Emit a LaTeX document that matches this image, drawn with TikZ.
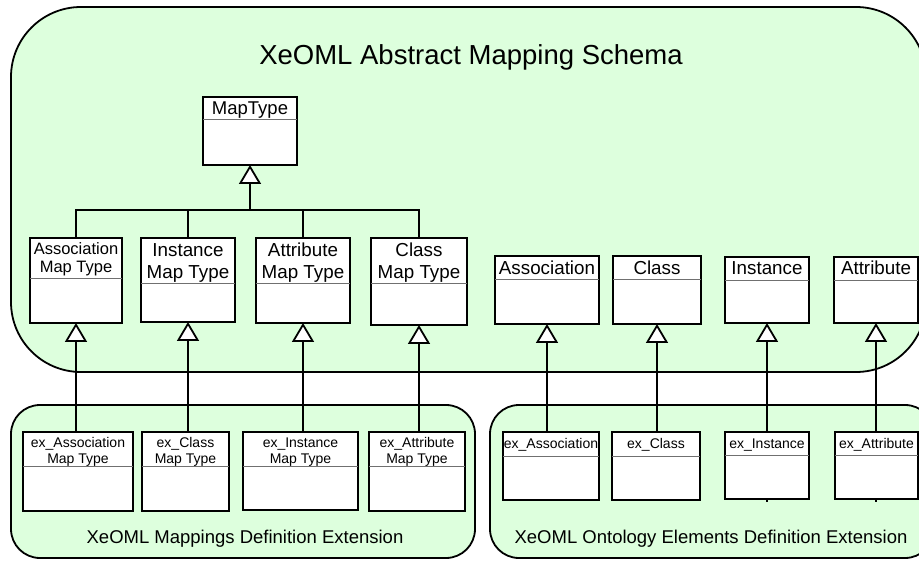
\documentclass[tikz,border=0pt]{standalone}
\usepackage{fontspec}
\setmainfont{Liberation Sans}
\usetikzlibrary{arrows.meta}
\definecolor{pkgfill}{HTML}{DDFFDD}
\definecolor{sepgray}{HTML}{707070}

\tikzset{
  classbox/.style={draw=black, line width=2pt, fill=white, inner sep=0pt, outer sep=0pt},
  headsep/.style={draw=sepgray, line width=1pt},
  pkg/.style={draw=black, line width=1.8pt, fill=pkgfill},
  link/.style={draw=black, line width=2pt},
  gen/.style={link, -{Triangle[length=19pt, width=22pt, fill=white, line width=1.8pt]}},
  fTop/.style={font=\fontsize{18.5}{21}\selectfont, align=center, inner sep=0pt},
  fMid/.style={font=\fontsize{18.8}{22}\selectfont, align=center, inner sep=0pt},
  fSmall/.style={font=\fontsize{16.5}{18}\selectfont, align=center, inner sep=0pt},
  fEx/.style={font=\fontsize{14}{16}\selectfont, align=center, inner sep=0pt},
  pkglabel/.style={font=\fontsize{18.5}{21}\selectfont, inner sep=0pt, anchor=base},
}

% UML class: name, x1, y1, x2, y2, header line y, text style, last baseline, label
\newcommand{\umlclass}[9]{%
  \pgfmathsetmacro{\cw}{#4-#2}%
  \pgfmathsetmacro{\ch}{#5-#3}%
  \pgfmathsetmacro{\cx}{(#2+#4)/2}%
  \pgfmathsetmacro{\sy}{#6+0.5}%
  \node[classbox, minimum width=\cw pt, minimum height=\ch pt, anchor=north west] (#1) at (#2,#3) {};
  \draw[headsep] (#2,\sy) -- (#4,\sy);
  \node[#7, anchor=base] (#1-name) at (\cx,#8) {#9};
}

\begin{document}
\begin{tikzpicture}[x=1pt, y=-1pt]
\useasboundingbox (0,0) rectangle (919,561);

% packages
\draw[pkg, rounded corners=70pt] (11,7) rectangle (926,372);
\draw[pkg, rounded corners=29pt] (11,405) rectangle (475,558);
\draw[pkg, rounded corners=29pt] (490,405) rectangle (934,558);

\node[font=\fontsize{27.5}{30}\selectfont, inner sep=0pt, anchor=base] (title) at (471,65) {XeOML Abstract Mapping Schema};
\node[pkglabel] (mapext) at (245,543) {XeOML Mappings Definition Extension};
\node[pkglabel] (ontext) at (711,543) {XeOML Ontology Elements Definition Extension};

% abstract schema classes
\umlclass{maptype}{203}{97}{297}{165}{119}{fTop}{115}{MapType}
\umlclass{assocmt}{30}{238}{122}{323}{278}{fSmall}{273}{Association\\Map Type}
\umlclass{instmt}{141}{238}{235}{322}{283}{fMid}{279}{Instance\\Map Type}
\umlclass{attrmt}{256}{238}{350}{323}{283}{fMid}{279}{Attribute\\Map Type}
\umlclass{classmt}{371}{238}{467}{325}{283}{fMid}{279}{Class\\Map Type}
\umlclass{assoc}{495}{256}{599}{324}{279}{fMid}{275}{Association}
\umlclass{class}{613}{256}{701}{324}{279}{fMid}{275}{Class}
\umlclass{instance}{725}{257}{809}{323}{280}{fMid}{275}{Instance}
\umlclass{attribute}{834}{257}{918}{323}{280}{fMid}{275}{Attribute}

% extension classes
\umlclass{exassocmt}{23}{432}{133}{511}{466}{fEx}{463}{ex\_Association\\Map Type}
\umlclass{exclassmt}{142}{432}{229}{511}{466}{fEx}{463}{ex\_Class\\Map Type}
\umlclass{exinstmt}{243}{432}{358}{510}{466}{fEx}{463}{ex\_Instance\\Map Type}
\umlclass{exattrmt}{369}{432}{465}{511}{466}{fEx}{463}{ex\_Attribute\\Map Type}
\umlclass{exassoc}{503}{432}{599}{500}{456}{fEx}{449}{ex\_Association}
\umlclass{exclass}{612}{432}{700}{500}{456}{fEx}{449}{ex\_Class}
\umlclass{exinst}{725}{432}{809}{499}{455}{fEx}{449}{ex\_Instance}
\umlclass{exattr}{835}{432}{918}{499}{455}{fEx}{449}{ex\_Attribute}

% generalisation tree under MapType
\coordinate (bus) at (250,210);
\draw[gen] (bus) -- (maptype.south);
\draw[link] (assocmt.north) -- (assocmt.north |- bus) -- (classmt.north |- bus) -- (classmt.north);
\draw[link] (instmt.north) -- (instmt.north |- bus);
\draw[link] (attrmt.north) -- (attrmt.north |- bus);

% extensions specialise the abstract classes
\draw[gen] (assocmt.south |- exassocmt.north) -- (assocmt.south);
\draw[gen] (instmt.south |- exclassmt.north) -- (instmt.south);
\draw[gen] (attrmt.south |- exinstmt.north) -- (attrmt.south);
\draw[gen] (classmt.south |- exattrmt.north) -- (classmt.south);
\draw[gen] (assoc.south |- exassoc.north) -- (assoc.south);
\draw[gen] (class.south |- exclass.north) -- (class.south);
\draw[gen] (instance.south |- exinst.north) -- (instance.south);
\draw[gen] (attribute.south |- exattr.north) -- (attribute.south);

% short stubs below two extension classes
\draw[link] (instance.south |- exinst.south) -- ++(0,3);
\draw[link] (attribute.south |- exattr.south) -- ++(0,3);
\end{tikzpicture}
\end{document}
